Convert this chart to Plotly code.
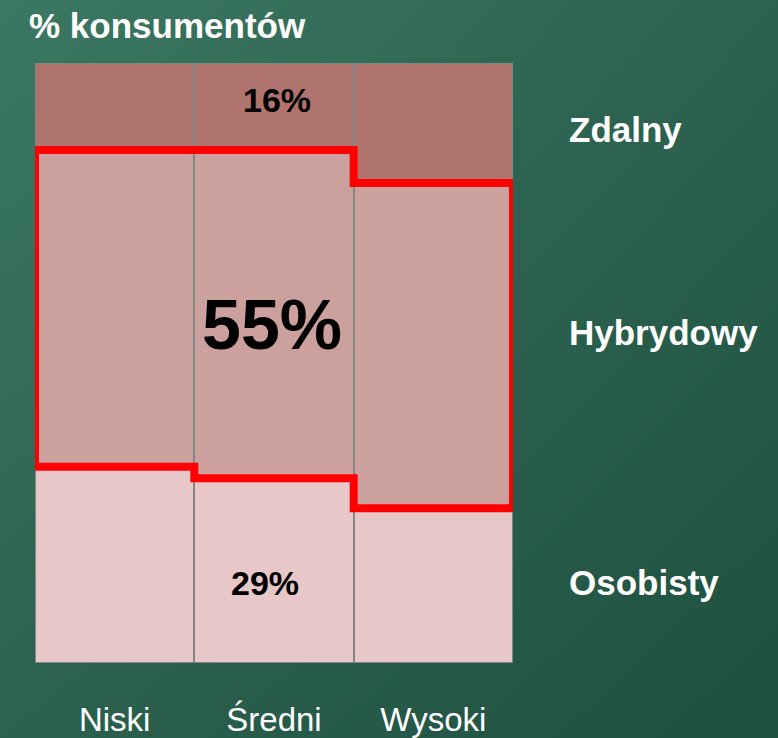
import plotly.graph_objects as go

# ---- data ----
categories = ["Niski", "Średni", "Wysoki"]
osobisty = [32.7, 30.8, 25.8]
hybrydowy = [52.8, 54.7, 54.2]
zdalny = [14.5, 14.5, 20.0]
series_names = ["Osobisty", "Hybrydowy", "Zdalny"]
label_16 = "16%"
label_55 = "55%"
label_29 = "29%"
title_text = "% konsumentów"

W, H = 778, 738
FONT = "Liberation Sans, Arial, sans-serif"
colors = {"Osobisty": "#e7c7c8", "Hybrydowy": "#cca09c", "Zdalny": "#b0746e"}

fig = go.Figure()

# background gradient on full-figure axes
fig.add_trace(go.Heatmap(
    x=[0, 1], y=[0, 1], z=[[0.45, 0.0], [1.0, 0.45]],
    colorscale=[[0, "#1f4f3f"], [1, "#3b7862"]], zsmooth="best",
    showscale=False, hoverinfo="skip", xaxis="x", yaxis="y"))

xpos = list(range(len(categories)))
for name, vals in zip(series_names, [osobisty, hybrydowy, zdalny]):
    fig.add_trace(go.Bar(
        x=xpos, y=vals, name=name, marker_color=colors[name],
        marker_line=dict(color="#858585", width=2),
        xaxis="x2", yaxis="y2", showlegend=False, hoverinfo="skip"))

# red outline around the hybrid region, derived from data
bot = list(osobisty)
top = [o + h for o, h in zip(osobisty, hybrydowy)]
px, py = [], []
for i in xpos:
    px += [i - 0.5, i + 0.5]
    py += [top[i], top[i]]
for i in reversed(xpos):
    px += [i + 0.5, i - 0.5]
    py += [bot[i], bot[i]]
px.append(px[0]); py.append(py[0])
fig.add_trace(go.Scatter(
    x=px, y=py, mode="lines", line=dict(color="#ff0000", width=8),
    xaxis="x2", yaxis="y2", showlegend=False, hoverinfo="skip", cliponaxis=False))

L, R, T, B = 35, 513, 63, 663

def yp(v):
    return (H - v) / H

def xp(v):
    return v / W

ann = []
white = dict(family=FONT, size=35, color="white", weight="bold")
black = dict(family=FONT, size=34, color="black", weight="bold")
ann.append(dict(text=title_text, x=xp(27), y=yp(26), xref="paper", yref="paper",
                xanchor="left", yanchor="middle", showarrow=False,
                font=dict(family=FONT, size=35, color="white", weight="bold")))
for name, ypx in zip(["Zdalny", "Hybrydowy", "Osobisty"], [130, 333, 582]):
    ann.append(dict(text=name, x=xp(567), y=yp(ypx), xref="paper", yref="paper",
                    xanchor="left", yanchor="middle", showarrow=False, font=white))
ann.append(dict(text=label_16, x=1, y=yp(100), xref="x2", yref="paper", xshift=3,
                showarrow=False, yanchor="middle", font=black))
ann.append(dict(text=label_29, x=1, y=yp(583), xref="x2", yref="paper", xshift=-9,
                showarrow=False, yanchor="middle", font=black))
ann.append(dict(text=label_55, x=1, y=yp(325), xref="x2", yref="paper", xshift=-2,
                showarrow=False, yanchor="middle",
                font=dict(family=FONT, size=70, color="black", weight="bold")))

fig.update_layout(
    width=W, height=H, margin=dict(l=0, r=0, t=0, b=0),
    paper_bgcolor="#245846", plot_bgcolor="rgba(0,0,0,0)",
    barmode="stack", bargap=0,
    xaxis=dict(domain=[0, 1], range=[0, 1], visible=False, fixedrange=True),
    yaxis=dict(domain=[0, 1], range=[0, 1], visible=False, fixedrange=True),
    xaxis2=dict(domain=[L / W, R / W], range=[-0.5, 2.5], anchor="y2",
                tickvals=xpos, ticktext=categories, showgrid=False, zeroline=False,
                showline=False, ticks="", ticklabelstandoff=34, fixedrange=True,
                tickfont=dict(family=FONT, size=33, color="white")),
    yaxis2=dict(domain=[(H - B) / H, (H - T) / H], range=[0, 100], anchor="x2",
                visible=False, fixedrange=True),
    annotations=ann,
    showlegend=False,
)

fig.write_html("out.html", config={"displayModeBar": False}, post_script=(
    "document.body.style.margin='0';document.body.style.padding='0';"
    "document.body.style.overflow='hidden';"))
